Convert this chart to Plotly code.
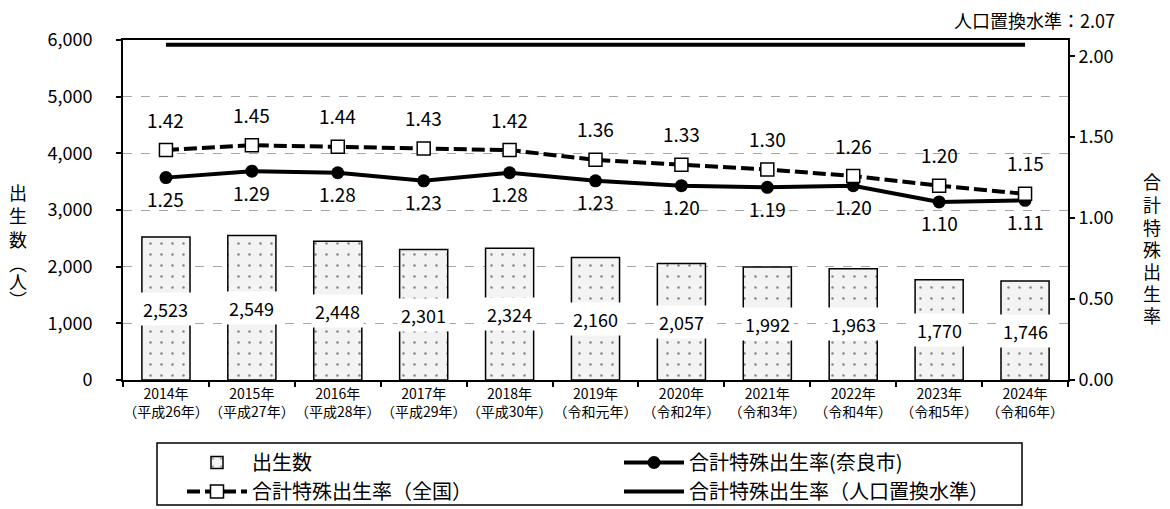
import plotly.graph_objects as go

# Data
years = ["2014年", "2015年", "2016年", "2017年", "2018年", "2019年",
         "2020年", "2021年", "2022年", "2023年", "2024年"]
eras = ["（平成26年）", "（平成27年）", "（平成28年）", "（平成29年）", "（平成30年）",
        "（令和元年）", "（令和2年）", "（令和3年）", "（令和4年）", "（令和5年）", "（令和6年）"]
births = [2523, 2549, 2448, 2301, 2324, 2160, 2057, 1992, 1963, 1770, 1746]
tfr_nara = [1.25, 1.29, 1.28, 1.23, 1.28, 1.23, 1.20, 1.19, 1.20, 1.10, 1.11]
tfr_japan = [1.42, 1.45, 1.44, 1.43, 1.42, 1.36, 1.33, 1.30, 1.26, 1.20, 1.15]
replacement_level = 2.07

left_ticks = [0, 1000, 2000, 3000, 4000, 5000, 6000]
right_ticks = [0.0, 0.5, 1.0, 1.5, 2.0]

left_title = "出生数︵人︶"
right_title = "合計特殊出生率"

FONT = "Noto Sans CJK JP"
cats = [f"{y}<br>{e}" for y, e in zip(years, eras)]

# plot-area geometry in pixels
W, H = 1170, 509
L, R, T, B = 123, 1068, 40, 380


def px(x):
    return (x - L) / (R - L)


def py(y):
    return (B - y) / (B - T)


fig = go.Figure()

fig.add_trace(go.Bar(
    x=cats, y=births, name="出生数", width=0.56,
    marker=dict(color="#f3f3f3",
                line=dict(color="#000000", width=1.5),
                pattern=dict(shape=".", fgcolor="#111111", bgcolor="#f3f3f3",
                             size=11, solidity=0.04)),
    yaxis="y",
))

fig.add_trace(go.Scatter(
    x=cats, y=tfr_nara, name="合計特殊出生率(奈良市)", mode="lines+markers",
    line=dict(color="#000000", width=4),
    marker=dict(symbol="circle", size=13, color="#000000"),
    yaxis="y2",
))

fig.add_trace(go.Scatter(
    x=cats, y=tfr_japan, name="合計特殊出生率（全国）", mode="lines+markers",
    line=dict(color="#000000", width=4, dash="13px,5px"),
    marker=dict(symbol="square", size=13, color="#ffffff",
                line=dict(color="#000000", width=1.5)),
    yaxis="y2",
))

fig.add_trace(go.Scatter(
    x=cats, y=[replacement_level] * len(cats), name="合計特殊出生率（人口置換水準）",
    mode="lines", line=dict(color="#000000", width=4),
    yaxis="y2",
))

annotations = []
# birth counts centred in each bar on a white box
for c, v in zip(cats, births):
    annotations.append(dict(x=c, y=v / 2, xref="x", yref="y", text=f"{v:,}",
                            showarrow=False, bgcolor="#ffffff", borderpad=3,
                            font=dict(size=18, family=FONT, color="#000000")))
# national rate above its markers
for c, v in zip(cats, tfr_japan):
    annotations.append(dict(x=c, y=v, xref="x", yref="y2", text=f"{v:.2f}",
                            showarrow=False, yshift=31,
                            font=dict(size=19, family=FONT, color="#000000")))
# Nara rate below its markers
for c, v in zip(cats, tfr_nara):
    annotations.append(dict(x=c, y=v, xref="x", yref="y2", text=f"{v:.2f}",
                            showarrow=False, yshift=-21,
                            font=dict(size=19, family=FONT, color="#000000")))

annotations.append(dict(x=px(1117), y=py(20), xref="paper", yref="paper",
                        text=f"人口置換水準：{replacement_level:.2f}",
                        showarrow=False, xanchor="right", yanchor="middle",
                        font=dict(size=18, family=FONT, color="#000000")))

# vertical (tategaki) axis titles, characters stacked top to bottom
left_y = [192, 215, 239, 263, 281, 299]
for ch, yy in zip(left_title, left_y):
    annotations.append(dict(x=px(18), y=py(yy), xref="paper", yref="paper", text=ch,
                            showarrow=False, xanchor="center", yanchor="middle",
                            font=dict(size=18, family=FONT, color="#000000")))
right_y = [181, 204, 227, 249, 271, 293, 315]
for ch, yy in zip(right_title, right_y):
    annotations.append(dict(x=px(1152), y=py(yy), xref="paper", yref="paper", text=ch,
                            showarrow=False, xanchor="center", yanchor="middle",
                            font=dict(size=18, family=FONT, color="#000000")))

# legend frame
shapes = [dict(type="rect", xref="paper", yref="paper",
               x0=px(157), x1=px(1022), y0=py(505), y1=py(443),
               line=dict(color="#000000", width=1.5), fillcolor="rgba(0,0,0,0)",
               layer="above")]

fig.update_layout(
    width=W, height=H,
    margin=dict(l=L, r=W - R, t=T, b=H - B, autoexpand=False),
    paper_bgcolor="#ffffff", plot_bgcolor="#ffffff",
    font=dict(family=FONT, color="#000000", size=18),
    barmode="overlay",
    showlegend=True,
    legend=dict(orientation="h", x=px(182), xanchor="left",
                y=py(443), yanchor="top",
                borderwidth=0, bgcolor="rgba(0,0,0,0)",
                font=dict(size=20, family=FONT, color="#000000"),
                entrywidth=362, entrywidthmode="pixels", itemwidth=60,
                traceorder="normal"),
    xaxis=dict(type="category", tickson="boundaries", ticks="outside", ticklen=5,
               tickcolor="#000000", tickwidth=1.5, tickangle=0,
               showline=True, linecolor="#000000", linewidth=2, mirror=True,
               showgrid=False, tickfont=dict(size=14, family=FONT),
               range=[-0.5, len(cats) - 0.5]),
    yaxis=dict(range=[0, 6000], tickvals=left_ticks, tickformat=",d",
               ticks="outside", ticklen=5, tickcolor="#000000", tickwidth=1.5,
               showline=True, linecolor="#000000", linewidth=2,
               showgrid=True, gridcolor="#a6a6a6", griddash="dash", gridwidth=1,
               zeroline=False, tickfont=dict(size=18, family=FONT),
               ticklabelstandoff=20),
    yaxis2=dict(range=[0, 2.1], tickvals=right_ticks, tickformat=".2f",
                overlaying="y", side="right", anchor="x",
                ticks="outside", ticklen=5, tickcolor="#000000", tickwidth=1.5,
                showline=True, linecolor="#000000", linewidth=2,
                showgrid=False, zeroline=False, tickfont=dict(size=18, family=FONT)),
    annotations=annotations,
    shapes=shapes,
)

fig.write_html("out.html")
